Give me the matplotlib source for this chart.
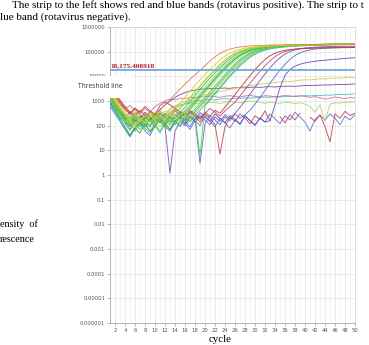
import numpy as np
import matplotlib
matplotlib.use("Agg")
import matplotlib.pyplot as plt
from matplotlib.patches import Rectangle

nan = float("nan")

cycles = list(range(1, 51))
threshold = 18175.408918
threshold_label = "18,175.408918"
x_ticks = list(range(2, 51, 2))
y_tick_labels = ["0.000001", "0.00001", "0.0001", "0.001", "0.01", "0.1", "1",
                 "10", "100", "1000", "10000", "100000", "1000000"]

# ---- amplifying samples (fluorescence per cycle 1..50) ----
s_orange = [2200, 1500, 900, 500, 380, 300, 420, 260, 350, 300, 420, 700, 1100, 1900, 3000, 4800, 7600, 11500, 17500, 27000,
            42000, 62000, 85000, 108000, 128000, 143000, 155000, 163000, 170000, 175000, 179000, 182000, 185000, 187000, 189000,
            191000, 193000, 194000, 195000, 196000, 197000, 198000, 199000, 200000, 201000, 202000, 203000, 204000, 205000, 206000]
s_yellow = [1800, 1200, 600, 350, 200, 280, 150, 240, 320, 180, 260, 400, 300, 520, 800, 1400, 2500, 4300, 7200, 11800,
            19000, 30000, 46000, 66000, 88000, 108000, 125000, 138000, 148000, 156000, 162000, 167000, 171000, 174000, 177000,
            180000, 182000, 184000, 186000, 188000, 190000, 192000, 193000, 195000, 196000, 198000, 199000, 200000, 202000, 203000]
s_ygreen = [1500, 900, 450, 300, 160, 90, 200, 130, 260, 150, 90, 180, 350, 260, 480, 800, 1400, 2500, 4300, 7300,
            12000, 19500, 31000, 47000, 67000, 89000, 109000, 126000, 139000, 149000, 157000, 163000, 168000, 172000, 176000,
            179000, 182000, 184000, 187000, 189000, 191000, 193000, 195000, 197000, 199000, 201000, 203000, 205000, 207000, 209000]
s_lgreen2 = [1000, 550, 260, 140, 200, 100, 170, 260, 160, 100, 210, 140, 280, 370, 520, 800, 1300, 2200, 3800, 6500,
             11000, 17500, 28000, 43000, 62000, 83000, 103000, 120000, 134000, 145000, 154000, 161000, 167000, 172000, 176000,
             180000, 183000, 186000, 189000, 192000, 194000, 196000, 198000, 200000, 202000, 204000, 206000, 208000, 210000, 212000]
s_green1 = [1300, 700, 320, 180, 260, 140, 90, 210, 170, 300, 200, 130, 240, 190, 330, 560, 950, 1650, 2900, 5000,
            8500, 14000, 22500, 35000, 52000, 73000, 95000, 114000, 130000, 143000, 152000, 160000, 166000, 171000, 175000,
            179000, 182000, 185000, 188000, 190000, 193000, 195000, 197000, 199000, 201000, 203000, 205000, 207000, 209000, 211000]
s_lgreen = [1100, 600, 250, 120, 60, 150, 110, 70, 130, 240, 160, 280, 180, 120, 260, 420, 700, 1200, 2100, 3600,
            6200, 10500, 17500, 28000, 43000, 62000, 83000, 103000, 120000, 134000, 145000, 154000, 161000, 167000, 172000,
            176000, 180000, 183000, 186000, 189000, 191000, 194000, 196000, 198000, 200000, 202000, 204000, 206000, 208000, 210000]
s_green2 = [900, 450, 200, 90, 40, 80, 50, 120, 60, 90, 200, 130, 70, 150, 220, 320, 500, 850, 1500, 2600,
            4500, 7700, 13000, 21000, 33000, 50000, 70000, 91000, 110000, 126000, 139000, 149000, 157000, 164000, 169000,
            174000, 178000, 182000, 185000, 188000, 190000, 193000, 195000, 197000, 199000, 201000, 203000, 205000, 206000, 208000]
s_mgreen = [1400, 750, 350, 170, 90, 190, 120, 250, 160, 100, 50, 120, 190, 130, 260, 380, 600, 1000, 1700, 2900,
            5000, 8500, 14000, 23000, 36000, 54000, 75000, 96000, 114000, 129000, 141000, 150000, 158000, 164000, 169000,
            173000, 177000, 181000, 184000, 187000, 190000, 192000, 194000, 196000, 198000, 200000, 202000, 204000, 206000, 208000]
s_lime = [2000, 1100, 500, 260, 130, 300, 200, 110, 240, 350, 230, 160, 300, 210, 150, 280, 420, 700, 1200, 2100,
          3600, 6200, 10500, 17500, 28000, 43000, 62000, 83000, 103000, 120000, 134000, 145000, 154000, 161000, 167000,
          172000, 176000, 180000, 183000, 186000, 189000, 191000, 194000, 196000, 198000, 200000, 202000, 204000, 206000, 208000]
s_teal = [800, 400, 180, 260, 120, 60, 140, 90, 180, 110, 60, 140, 220, 150, 90, 170, 300, 480, 820, 1400,
          2400, 4100, 7000, 12000, 20000, 32000, 49000, 69000, 90000, 109000, 125000, 138000, 148000, 156000, 163000,
          168000, 173000, 177000, 181000, 184000, 187000, 190000, 192000, 194000, 196000, 198000, 200000, 202000, 204000, 205000]
s_green3 = [1200, 650, 300, 150, 220, 110, 70, 160, 100, 230, 140, 90, 190, 130, 250, 160, 230, 380, 650, 1100,
            1900, 3300, 5700, 9800, 16500, 27000, 42000, 61000, 82000, 102000, 119000, 133000, 144000, 153000, 160000,
            166000, 171000, 175000, 179000, 182000, 185000, 188000, 190000, 192000, 194000, 196000, 198000, 200000, 201000, 203000]
s_olive = [1900, 1100, 550, 280, 150, 80, 180, 120, 60, 150, 250, 160, 100, 200, 130, 270, 180, 320, 550, 950,
           1600, 2800, 4900, 8400, 14000, 23000, 36000, 54000, 74000, 95000, 113000, 128000, 140000, 150000, 158000,
           164000, 170000, 174000, 178000, 182000, 185000, 188000, 191000, 193000, 196000, 198000, 200000, 202000, 204000, 206000]
s_cyan = [700, 350, 160, 80, 40, 90, 150, 80, 50, 120, 200, 110, 70, 160, 100, 200, 150, 260, 420, 700,
          1200, 2100, 3700, 6400, 11000, 18500, 30000, 46000, 65000, 85000, 104000, 120000, 133000, 143000, 151000,
          158000, 163000, 168000, 172000, 175000, 178000, 181000, 183000, 185000, 187000, 189000, 191000, 192000, 194000, 195000]
s_green4 = [1600, 850, 380, 200, 100, 230, 140, 300, 190, 120, 260, 170, 110, 240, 330, 210, 140, 260, 6, 650,
            1100, 1900, 3300, 5700, 9700, 16000, 26000, 40000, 58000, 78000, 98000, 115000, 129000, 140000, 149000,
            156000, 162000, 167000, 171000, 175000, 178000, 181000, 184000, 186000, 188000, 190000, 192000, 194000, 196000, 198000]
s_darkred = [2500, 1600, 800, 450, 300, 520, 350, 600, 400, 280, 650, 900, 700, 500, 380, 260, 420, 300, 200, 350,
             240, 420, 320, 560, 1000, 1800, 3300, 6000, 10500, 18500, 31000, 48000, 68000, 87000, 102000,
             113000, 121000, 127000, 131000, 134000, 136000, 138000, 139500, 141000, 142000, 143000, 144000, 145000, 146000, 147000]
s_magenta = [3000, 2000, 1100, 600, 350, 250, 400, 280, 180, 320, 220, 150, 300, 450, 320, 230, 380, 260, 180, 320,
             500, 350, 250, 400, 600, 900, 1600, 2900, 5200, 9300, 16000, 27000, 43000, 63000, 84000,
             102000, 116000, 126000, 133000, 138000, 142000, 145000, 147000, 149000, 150000, 151000, 152000, 153000, 154000, 155000]
s_purple = [1400, 800, 400, 220, 350, 180, 110, 260, 160, 90, 200, 90, 1.2, 60, 150, 100, 220, 140, 260, 170,
            110, 230, 150, 280, 190, 320, 550, 1000, 1900, 3600, 6800, 12500, 22000, 37000, 57000,
            80000, 101000, 118000, 131000, 140000, 147000, 152000, 156000, 159000, 161000, 163000, 165000, 166000, 167000, 168000]
s_blue = [1000, 550, 250, 130, 70, 160, 250, 150, 90, 200, 130, 300, 180, 110, 240, 160, 90, 200, 3, 120,
          260, 170, 110, 230, 160, 300, 200, 280, 420, 750, 1400, 2700, 5200, 9800, 18000,
          31000, 49000, 70000, 90000, 106000, 118000, 127000, 133000, 138000, 141000, 144000, 146000, 148000, 149000, 150000]
s_violet = [1800, 1000, 480, 250, 140, 280, 190, 350, 230, 150, 330, 220, 140, 290, 190, 120, 250, 170, 340, 230,
            150, 300, 200, 130, 260, 180, 120, 240, 160, 110, 200, 140, 160, 700, 3500,
            11000, 19000, 26000, 31000, 35000, 38000, 41000, 43000, 45000, 47000, 49000, 51000, 53000, 55000, 57000]

# ---- non-amplifying samples ----
n_yellow = [2000, 1300, 700, 450, 300, 420, 280, 200, 350, 250, 400, 300, 500, 650, 800, 950, 1100, 1300, 1500, 1700,
            1900, 2100, 2400, 2700, 3000, 3300, 3600, 3900, 4200, 4500, 4800, 5100, 5300, 5600, 5900,
            6200, 6000, 6500, 7000, 7300, 7100, 7600, 8000, 7800, 8300, 8600, 8400, 8800, 9000, 8700]
n_purple = [900, 500, 250, 150, 90, 180, 120, 220, 150, 280, 450, 700, 1000, 1400, 1800, 2200, 2500, 2800, 3000, 3100,
            3200, 3150, 3300, 3350, 3250, 3450, 3500, 3400, 3600, 3650, 3550, 3750, 3800, 3700, 3900,
            3950, 4000, 3900, 4100, 4200, 4300, 4250, 4400, 4500, 4450, 4600, 4700, 4650, 4800, 4900]
n_pink = [2600, 1700, 900, 500, 650, 420, 300, 500, 350, 600, 800, 1000, 1200, 1100, 1300, 1250, 1400, 1350, 1500, 1450,
          1600, 1500, 1400, 1550, 1650, 1500, 1450, 1600, 1700, 1550, 1500, 1650, 1600, 1450, 1550,
          1700, 1600, 1500, 1650, 1550, 1400, 1500, 1350, 1200, 1300, 1450, 1350, 1250, 1400, 1300]
n_cyan = [1200, 700, 350, 200, 120, 250, 170, 100, 220, 150, 300, 200, 350, 500, 650, 800, 900, 1000, 1050, 1100,
          1150, 1100, 1200, 1250, 1200, 1300, 1250, 1350, 1300, 1400, 1350, 1450, 1400, 1500, 1450,
          1550, 1500, 1600, 1550, 1650, 1600, 1700, 1650, 1750, 1700, 1800, 1850, 1800, 1900, 1950]
n_lgreen = [1700, 1000, 500, 300, 180, 350, 240, 150, 300, 200, 380, 260, 450, 600, 700, 750, 800, 780, 850, 820,
            900, 860, 800, 880, 950, 900, 850, 920, 1000, 950, 880, 800, 900, 850, 800,
            900, 860, 780, 850, 750, 600, 350, 700, 150, 750, 850, 820, 900, 880, 950]
n_red = [2800, 1900, 1000, 550, 320, 500, 300, 180, 380, 250, 150, 320, 210, 400, 260, 170, 350, 230, 140, 300,
         200, 110, 7, 90, 220, 150, 300, 200, 120, 250, 180, 400, 160, nan, 230,
         130, 280, 170, 320, nan, 220, 150, 280, 90, 22, 300, 200, 380, 260, 320]
n_blue = [600, 300, 150, 70, 35, 80, 130, 60, 40, 100, 180, 90, 60, 140, 220, 120, 70, 160, 100, 250,
          150, 90, 200, 130, 80, 170, 110, 260, 160, 100, 210, 140, 300, 190, 120,
          250, 170, 350, 220, 140, 60, 180, 260, 170, 300, 200, 110, 240, 170, 280]

series = [n_blue, n_red, n_lgreen, n_cyan, n_pink, n_purple, n_yellow,
          s_violet, s_blue, s_purple, s_magenta, s_darkred,
          s_green4, s_cyan, s_olive, s_green3, s_teal, s_lime, s_mgreen, s_green2,
          s_lgreen, s_green1, s_lgreen2, s_ygreen, s_yellow, s_orange]
colors = ["#5a70d8", "#c8384a", "#a8d468", "#40c4c4", "#d66aa8", "#6a4a9a", "#d8c848",
          "#5a4ac0", "#4f6ad0", "#7a4fb0", "#c8407a", "#b03a3a",
          "#48d048", "#30b4c8", "#b0c828", "#58c830", "#2fbf8f", "#a8e010", "#66c060", "#22a84a",
          "#7fd860", "#3cb44b", "#90d040", "#b8d838", "#d8d020", "#e07b39"]

W, H = 369, 345
fig = plt.figure(figsize=(W / 100, H / 100), dpi=100)
fig.patch.set_facecolor("white")

ax = fig.add_axes([110 / W, 1 - 323 / H, 245 / W, 296 / H])
ax.set_yscale("log")
ax.set_xlim(1, 50)
ax.set_ylim(1e-6, 1e6)

for vals, col in zip(series, colors):
    ax.plot(cycles, vals, color=col, lw=0.65, alpha=0.9, zorder=3)

ax.axhline(threshold, color="#6fa8dc", lw=1.3, zorder=4)

# grid
ax.set_xticks(x_ticks)
ax.set_xticks(cycles, minor=True)
ax.set_yticks([10.0 ** k for k in range(-6, 7)])
ax.set_yticklabels(y_tick_labels)
ax.grid(True, which="major", color="#e2e2e2", lw=0.5, zorder=0)
ax.grid(True, which="minor", color="#f1f1f1", lw=0.4, zorder=0)
ax.set_axisbelow(True)
ax.tick_params(axis="both", which="major", length=2, width=0.5, color="#999999",
               labelsize=3.8, labelcolor="#555555", pad=1.5)
ax.tick_params(axis="both", which="minor", length=0)
ax.yaxis.set_minor_formatter(matplotlib.ticker.NullFormatter())
for side in ["left", "bottom"]:
    ax.spines[side].set_color("#aaaaaa")
    ax.spines[side].set_linewidth(0.6)
for side in ["top", "right"]:
    ax.spines[side].set_color("#d0d0d0")
    ax.spines[side].set_linewidth(0.5)

serif = ["Liberation Serif", "DejaVu Serif"]
fig.text(12 / W, 1 - 5 / H, "The strip to the left shows red and blue bands (rotavirus positive). The strip to t",
         family=serif, fontsize=8, va="center", ha="left")
fig.text(0, 1 - 17 / H, "lue band (rotavirus negative).", family=serif, fontsize=8, va="center", ha="left")
fig.text(0, 1 - 224 / H, "ensity  of", family=serif, fontsize=7.3, va="center", ha="left")
fig.text(0, 1 - 239 / H, "rescence", family=serif, fontsize=7.3, va="center", ha="left")
fig.text(220 / W, 1 - 340 / H, "cycle", family=serif, fontsize=7.8, va="center", ha="center")

fig.text(110 / W, 1 - 66 / H, threshold_label, family=serif, fontsize=5.3, fontweight="bold",
         color="#b22222", va="center", ha="left", zorder=6)
fig.patches.append(Rectangle((60 / W, 1 - 98 / H), 72 / W, 22 / H, transform=fig.transFigure,
                             facecolor="white", edgecolor="none", zorder=5))
fig.text(78 / W, 1 - 87 / H, "Threshold line", family=["Open Sans", "DejaVu Sans"], fontsize=4.8,
         color="#333333", va="center", ha="left", zorder=6)

fig.savefig("out.png", dpi=100, facecolor="white")
